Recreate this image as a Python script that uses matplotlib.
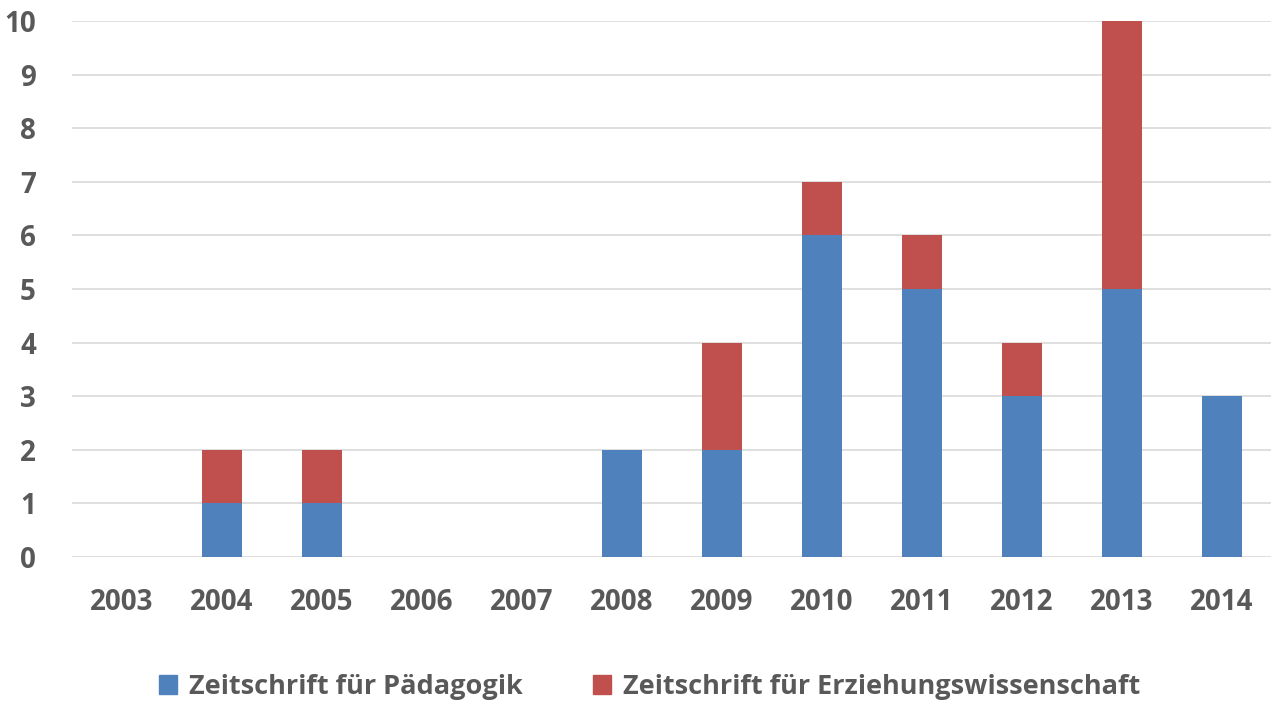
import matplotlib.pyplot as plt
import numpy as np
from matplotlib.patches import Patch

years = ["2003", "2004", "2005", "2006", "2007", "2008",
         "2009", "2010", "2011", "2012", "2013", "2014"]
paedagogik = [0, 1, 1, 0, 0, 2, 2, 6, 5, 3, 5, 3]
erziehungswiss = [0, 1, 1, 0, 0, 0, 2, 1, 1, 1, 5, 0]
series_names = ["Zeitschrift für Pädagogik", "Zeitschrift für Erziehungswissenschaft"]

blue = "#4F81BD"
red = "#C0504D"
txt = "#595959"

plt.rcParams['font.family'] = ['Open Sans', 'DejaVu Sans']
plt.rcParams['font.weight'] = 'bold'

fig = plt.figure(figsize=(12.71, 7.04), dpi=100)
ax = fig.add_axes([0.0566, 0.2088, 0.944, 0.7614])

x = np.arange(len(years))
ax.bar(x, paedagogik, width=0.4, color=blue, zorder=3)
ax.bar(x, erziehungswiss, width=0.4, bottom=paedagogik, color=red, zorder=3)

ax.set_xlim(-0.5, len(years) - 0.5)
ax.set_ylim(0, 10)
ax.set_yticks(range(0, 11))
ax.set_xticks(x)
ax.set_xticklabels(years)
ax.yaxis.grid(True, color="#D9D9D9", linewidth=1.2, zorder=0)
ax.set_axisbelow(True)
for s in ax.spines.values():
    s.set_visible(False)
ax.tick_params(axis='both', length=0, labelsize=20, labelcolor=txt)
ax.tick_params(axis='x', pad=22)
ax.tick_params(axis='y', pad=26)

handles = [Patch(color=blue), Patch(color=red)]
fig.legend(handles, series_names, loc='center', bbox_to_anchor=(0.511, 1 - 687 / 704),
           ncol=2, frameon=False, fontsize=19.5, labelcolor=txt,
           handlelength=0.65, handleheight=0.65, handletextpad=0.45, columnspacing=2.6)

fig.savefig("out.png", dpi=100)
